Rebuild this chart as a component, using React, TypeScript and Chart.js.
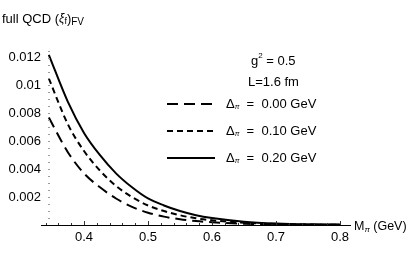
import React, { useEffect, useRef } from "react";
import { Chart, registerables } from "chart.js";

Chart.register(...registerables);

// ---- data ----
const massGeV = [0.345, 0.375, 0.4, 0.425, 0.45, 0.475, 0.5, 0.525, 0.55, 0.575, 0.6, 0.65, 0.7, 0.75, 0.8];
const delta000 = [0.0077, 0.0052, 0.0037, 0.0027, 0.0019, 0.0013, 0.00088, 0.0006, 0.00041, 0.00028, 0.0002, 0.00009, 0.00004, 0.00002, 0.00001];
const delta010 = [0.0105, 0.0072, 0.0053, 0.0039, 0.0028, 0.002, 0.0014, 0.001, 0.0007, 0.00048, 0.00034, 0.00016, 0.00007, 0.00003, 0.00002];
const delta020 = [0.0122, 0.0088, 0.0066, 0.005, 0.0037, 0.0027, 0.0019, 0.0014, 0.001, 0.0007, 0.0005, 0.00024, 0.00011, 0.00005, 0.00003];
const deltaLabels = ["0.00", "0.10", "0.20"];
const xTickValues = [0.4, 0.5, 0.6, 0.7, 0.8];
const xTickLabels = ["0.4", "0.5", "0.6", "0.7", "0.8"];
const yTickValues = [0.002, 0.004, 0.006, 0.008, 0.01, 0.012];
const yTickLabels = ["0.002", "0.004", "0.006", "0.008", "0.01", "0.012"];

const FONT = '"Liberation Sans", Arial, Helvetica, sans-serif';
const dashes: number[][] = [[11, 6], [6, 4], []];

type Part = { t: string; size: number; dy?: number; italic?: boolean };

function drawParts(ctx: CanvasRenderingContext2D, parts: Part[], x: number, y: number) {
  let cx = x;
  for (const p of parts) {
    ctx.font = `${p.italic ? "italic " : ""}${p.size}px ${FONT}`;
    ctx.fillText(p.t, cx, y + (p.dy || 0));
    cx += ctx.measureText(p.t).width;
  }
}

const decorPlugin = {
  id: "decor",
  afterDraw(chart: any) {
    const ctx: CanvasRenderingContext2D = chart.ctx;
    const xs = chart.scales.x;
    const ys = chart.scales.y;
    ctx.save();
    // dotted y axis at the first mass value
    const ax = xs.getPixelForValue(massGeV[0]);
    ctx.fillStyle = "#9a9a9a";
    for (let v = 0.0005; v <= ys.max + 1e-9; v += 0.0005) {
      const py = Math.round(ys.getPixelForValue(v));
      ctx.fillRect(Math.round(ax) - 1, py, 2, 1);
    }
    // x-axis minor/major ticks
    ctx.fillStyle = "#333";
    const by = Math.round(ys.getPixelForValue(0));
    for (let i = 0; i <= 24; i++) {
      const v = 0.34 + i * 0.02;
      if (v > xs.max) break;
      const px = Math.round(xs.getPixelForValue(v));
      const major = Math.abs(v * 10 - Math.round(v * 10)) < 1e-6;
      ctx.fillRect(px, by - (major ? 4 : 2), 1, major ? 4 : 2);
    }
    ctx.fillStyle = "#000";
    ctx.textBaseline = "middle";
    ctx.textAlign = "left";
    // axis titles
    drawParts(ctx, [
      { t: "full QCD (", size: 13 },
      { t: "ξ", size: 12, italic: true },
      { t: "f", size: 9, dy: 3 },
      { t: ")", size: 13 },
      { t: "FV", size: 10, dy: 3 },
    ], 2, 19);
    drawParts(ctx, [
      { t: "M", size: 12.5 },
      { t: "π", size: 8, dy: 3, italic: true },
      { t: " (GeV)", size: 12.5 },
    ], 354, 227);
    // annotations
    drawParts(ctx, [
      { t: "g", size: 13 },
      { t: "2", size: 8, dy: -5 },
      { t: " = 0.5", size: 13 },
    ], 251, 61);
    drawParts(ctx, [{ t: "L=1.6 fm", size: 13 }], 248, 82);
    // legend
    const rows = [104, 131, 158];
    for (let i = 0; i < 3; i++) {
      ctx.strokeStyle = "#000";
      ctx.lineWidth = 2;
      ctx.setLineDash(dashes[i]);
      ctx.beginPath();
      ctx.moveTo(167, rows[i]);
      ctx.lineTo(215, rows[i]);
      ctx.stroke();
      ctx.setLineDash([]);
      drawParts(ctx, [
        { t: "Δ", size: 13 },
        { t: "π", size: 7, dy: 3, italic: true },
        { t: "  =  " + deltaLabels[i] + " GeV", size: 13 },
      ], 226, rows[i]);
    }
    ctx.restore();
  },
};

export default function App() {
  const ref = useRef<HTMLCanvasElement | null>(null);
  useEffect(() => {
    document.body.style.margin = "0";
    const series = [delta000, delta010, delta020];
    const chart = new Chart(ref.current as HTMLCanvasElement, {
      type: "line",
      data: {
        datasets: series.map((s, i) => ({
          label: "Δπ = " + deltaLabels[i] + " GeV",
          data: massGeV.map((m, k) => ({ x: m, y: s[k] })),
          borderColor: "#000",
          borderWidth: 2,
          borderDash: dashes[i],
          pointRadius: 0,
          fill: false,
          cubicInterpolationMode: "monotone" as const,
        })),
      },
      options: {
        responsive: false,
        animation: false,
        layout: { padding: { top: 45, right: 57, left: 0, bottom: 0 } },
        plugins: { legend: { display: false }, tooltip: { enabled: false } },
        scales: {
          x: {
            type: "linear",
            min: 0.3328,
            max: 0.8156,
            grid: { display: false, drawTicks: false },
            border: { display: true, color: "#000", width: 1 },
            afterBuildTicks: (s: any) => { s.ticks = xTickValues.map((v) => ({ value: v })); },
            afterFit: (s: any) => { s.height = 47; },
            ticks: {
              padding: 5,
              color: "#000",
              font: { family: FONT, size: 13 },
              callback: (v: any) => { const i = xTickValues.findIndex((t) => Math.abs(t - v) < 1e-9); return i >= 0 ? xTickLabels[i] : ""; },
            },
          },
          y: {
            type: "linear",
            min: 0,
            max: 0.0129,
            grid: { display: false, drawTicks: false },
            border: { display: false },
            afterBuildTicks: (s: any) => { s.ticks = yTickValues.map((v) => ({ value: v })); },
            afterFit: (s: any) => { s.width = 41; },
            ticks: {
              padding: 0,
              color: "#000",
              font: { family: FONT, size: 13 },
              callback: (v: any) => { const i = yTickValues.findIndex((t) => Math.abs(t - v) < 1e-9); return i >= 0 ? yTickLabels[i] : ""; },
            },
          },
        },
      },
      plugins: [decorPlugin],
    });
    return () => chart.destroy();
  }, []);
  return <canvas ref={ref} width={407} height={272} style={{ display: "block" }} />;
}
